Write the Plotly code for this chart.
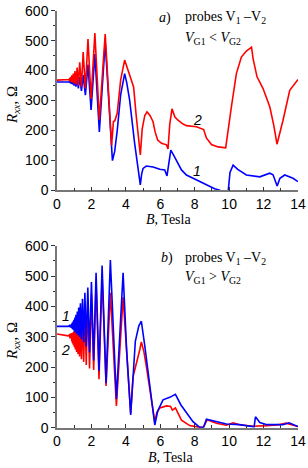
import plotly.graph_objects as go

# ---- Panel a) data (B in Tesla, Rxx in Ohm) ----
a_blue_B = [0, 0.3, 0.6, 0.70, 0.737, 0.766, 0.796, 0.829, 0.865, 0.904, 0.947, 0.994, 1.046, 1.10, 1.17, 1.24,
            1.32, 1.42, 1.52, 1.65, 1.80, 1.98, 2.20, 2.46, 2.80, 3.22, 3.35, 3.5, 3.7, 3.93, 4.05, 4.22, 4.51,
            4.71, 4.84, 4.92, 5.0, 5.19, 5.58, 5.97, 6.26, 6.39, 6.50, 6.61, 6.75, 6.94, 7.23, 7.52, 7.9, 8.29,
            8.68, 8.87, 9.16, 9.45, 9.7, 9.95, 10.05, 10.23, 10.5, 11.0, 11.78, 12.36, 12.55, 12.79, 12.95,
            13.23, 13.71, 14.0]
a_blue_R = [362, 362, 361, 362, 366, 358, 367, 356, 368, 354, 370, 350, 372, 346, 375, 340,
            378, 332, 385, 318, 420, 268, 455, 195, 495, 99, 130, 200, 320, 390, 360, 301, 157,
            79, 18, 55, 73, 81, 78, 70, 68, 48, 100, 134, 120, 101, 68, 51, 40, 29,
            20, 14, 5, 0, -15, 0, 60, 84, 70, 51, 45, 57, 52, 14, 40,
            51, 40, 29]

a_red_B = [0, 0.3, 0.6, 0.70, 0.737, 0.766, 0.796, 0.829, 0.865, 0.904, 0.947, 0.994, 1.046, 1.10, 1.17, 1.24,
           1.32, 1.42, 1.52, 1.65, 1.80, 1.98, 2.20, 2.46, 2.80, 3.17, 3.28, 3.36, 3.5, 3.7, 3.93, 4.1, 4.3,
           4.45, 4.6, 4.75, 4.84, 4.95, 5.1, 5.23, 5.4, 5.58, 5.7, 5.85, 6.07, 6.36, 6.45, 6.55, 6.68, 6.85,
           7.03, 7.3, 7.52, 8.1, 8.3, 8.52, 8.68, 8.97, 9.36, 9.8, 10.13, 10.42, 10.71, 11.0, 11.3, 11.39,
           11.62, 11.97, 12.36, 12.59, 12.78, 13.13, 13.52, 13.81, 14.0]
a_red_R = [368, 368, 369, 370, 375, 364, 379, 362, 384, 360, 390, 357, 398, 354, 410, 350,
           428, 345, 462, 340, 505, 305, 525, 236, 522, 150, 230, 232, 258, 370, 435, 405, 368,
           345, 250, 160, 118, 205, 250, 262, 250, 229, 195, 168, 157, 152, 138, 220, 272, 245,
           234, 222, 216, 212, 207, 203, 175, 153, 145, 142, 279, 390, 445, 465, 478, 440,
           379, 340, 279, 218, 154, 234, 334, 357, 370]

# ---- Panel b) data ----
b_blue_B = [0, 0.3, 0.5, 0.65, 0.72, 0.76, 0.80, 0.82, 0.84, 0.86, 0.88, 0.905, 0.93, 0.955, 0.98, 1.01,
            1.04, 1.07, 1.10, 1.14, 1.18, 1.22, 1.26, 1.31, 1.36, 1.42, 1.48, 1.55, 1.62, 1.70, 1.79, 1.89,
            2.0, 2.13, 2.27, 2.44, 2.62, 2.85, 3.10, 3.45, 3.84, 4.05, 4.28, 4.4, 4.55, 4.75, 4.9, 5.1,
            5.3, 5.5, 5.68, 5.85, 5.97, 6.16, 6.55, 6.88, 7.2, 7.52, 7.9, 8.29, 8.52, 8.68, 9.06, 9.84,
            10.6, 11.2, 11.45, 11.53, 11.78, 12.2, 13.13, 13.48, 13.7, 14.0]
b_blue_R = [334, 334, 333, 334, 337, 331, 339, 330, 342, 328, 346, 325, 350, 322, 356, 318,
            363, 314, 372, 310, 383, 305, 396, 300, 410, 292, 425, 283, 445, 268, 462, 248,
            480, 222, 511, 187, 535, 147, 553, 95, 511, 250, 42, 170, 285, 335, 351, 270,
            180, 90, 9, 55, 70, 92, 100, 110, 75, 48, 20, 1, 2, 28, 23, 12,
            10, 5, 3, 36, 17, 10, 10, 16, 10, 4]

b_red_B = [0, 0.3, 0.5, 0.65, 0.72, 0.76, 0.80, 0.82, 0.84, 0.86, 0.88, 0.905, 0.93, 0.955, 0.98, 1.01,
           1.04, 1.07, 1.10, 1.14, 1.18, 1.22, 1.26, 1.31, 1.36, 1.42, 1.48, 1.55, 1.62, 1.70, 1.79, 1.89,
           2.0, 2.13, 2.27, 2.44, 2.62, 2.85, 3.10, 3.45, 3.84, 4.05, 4.28, 4.42, 4.61, 4.81, 4.9, 5.05,
           5.19, 5.4, 5.68, 5.8, 5.97, 6.36, 6.6, 6.7, 6.88, 7.23, 7.71, 8.2, 8.5, 8.72, 9.26, 9.84,
           10.23, 10.6, 11.4, 12.2, 12.9, 13.3, 13.7, 14.0]
b_red_R = [309, 307, 305, 303, 306, 295, 308, 290, 310, 284, 312, 278, 314, 272, 318, 265,
           322, 258, 330, 250, 340, 243, 352, 235, 365, 226, 380, 217, 400, 207, 420, 195,
           440, 190, 480, 160, 500, 138, 445, 72, 430, 240, 48, 169, 210, 257, 283, 250,
           202, 120, 20, 50, 65, 72, 70, 58, 65, 25, 7, 2, 1, 26, 15, 8,
           16, 10, 5, 7, 10, 15, 10, 4]

x_ticks = [0, 2, 4, 6, 8, 10, 12, 14]
y_ticks = [0, 100, 200, 300, 400, 500, 600]

RED = "#ff0000"
BLUE = "#0000ff"
LW = 1.6

fig = go.Figure()
fig.add_trace(go.Scatter(x=a_blue_B, y=a_blue_R, mode="lines", line=dict(color=BLUE, width=LW),
                         xaxis="x", yaxis="y", showlegend=False))
fig.add_trace(go.Scatter(x=a_red_B, y=a_red_R, mode="lines", line=dict(color=RED, width=LW),
                         xaxis="x", yaxis="y", showlegend=False))
fig.add_trace(go.Scatter(x=b_red_B, y=b_red_R, mode="lines", line=dict(color=RED, width=LW),
                         xaxis="x2", yaxis="y2", showlegend=False))
fig.add_trace(go.Scatter(x=b_blue_B, y=b_blue_R, mode="lines", line=dict(color=BLUE, width=LW),
                         xaxis="x2", yaxis="y2", showlegend=False))

SANS = "Arial, Liberation Sans, sans-serif"
SERIF = "Times New Roman, Liberation Serif, serif"
AXC = "#777777"

def xax(anchor):
    return dict(domain=[0, 1], anchor=anchor, range=[0, 14], tickvals=x_ticks,
                ticks="inside", ticklen=4, tickwidth=1, tickcolor="#333",
                minor=dict(dtick=1, ticks="inside", ticklen=3, tickcolor="#333"),
                showline=True, linecolor=AXC, linewidth=1.5, showgrid=False, zeroline=False,
                automargin=False, ticklabelstandoff=0,
                tickfont=dict(family=SANS, size=14, color="black"), fixedrange=True)

def yax(anchor, dom):
    return dict(domain=dom, anchor=anchor, range=[0, 600], tickvals=y_ticks,
                ticks="outside", ticklen=4, tickwidth=1, tickcolor="#333",
                minor=dict(dtick=50, ticks="outside", ticklen=2, tickcolor="#333"),
                showline=True, linecolor=AXC, linewidth=1.5, showgrid=False, zeroline=False,
                automargin=False,
                tickfont=dict(family=SANS, size=14, color="black"), fixedrange=True)

W, H = 308, 468
L, R, T, B = 57, 10, 10, 40

def px(xp):
    return (xp - L) / (W - L - R)

def py(yp):
    return (H - B - yp) / (H - T - B)

fig.update_layout(
    width=W, height=H, margin=dict(l=L, r=R, t=T, b=B, autoexpand=False),
    paper_bgcolor="white", plot_bgcolor="white",
    xaxis=xax("y"), yaxis=yax("x", [0.5687, 0.9983]),
    xaxis2=xax("y2"), yaxis2=yax("x2", [0.0007, 0.4361]),
)

ann = []
def add(x, y, text, size=14, family=SERIF, xanchor="left", angle=0):
    ann.append(dict(x=px(x), y=py(y), xref="paper", yref="paper", text=text, showarrow=False,
                    xanchor=xanchor, yanchor="middle", textangle=angle,
                    font=dict(family=family, size=size, color="black")))

# axis titles
add(168, 219, "<i>B</i>, Tesla", 14, xanchor="center")
add(170, 457, "<i>B</i>, Tesla", 14, xanchor="center")
add(13, 105, "<i>R</i><sub><i>xx</i></sub>, Ω", 15, xanchor="center", angle=-90)
add(13, 341, "<i>R</i><sub><i>xx</i></sub>, Ω", 15, xanchor="center", angle=-90)

# panel captions
add(157, 18, "<i>a</i>)", 14)
add(183, 18, "probes V<sub>1</sub> –V<sub>2</sub>", 14)
add(183, 38, "<i>V</i><sub>G1</sub> &lt; <i>V</i><sub>G2</sub>", 14)
add(159, 258, "<i>b</i>)", 14)
add(183, 258, "probes V<sub>1</sub> –V<sub>2</sub>", 14)
add(183, 277, "<i>V</i><sub>G1</sub> &gt; <i>V</i><sub>G2</sub>", 14)

# curve labels
add(197, 120, "<i>2</i>", 14, family=SANS, xanchor="center")
add(197, 171, "<i>1</i>", 14, family=SANS, xanchor="center")
add(66, 316, "<i>1</i>", 14, family=SANS, xanchor="center")
add(65, 350, "<i>2</i>", 14, family=SANS, xanchor="center")

fig.update_layout(annotations=ann)

fig.write_html("out.html", config={"displayModeBar": False},
               post_script="document.body.style.margin='0px';document.body.style.overflow='hidden';")
